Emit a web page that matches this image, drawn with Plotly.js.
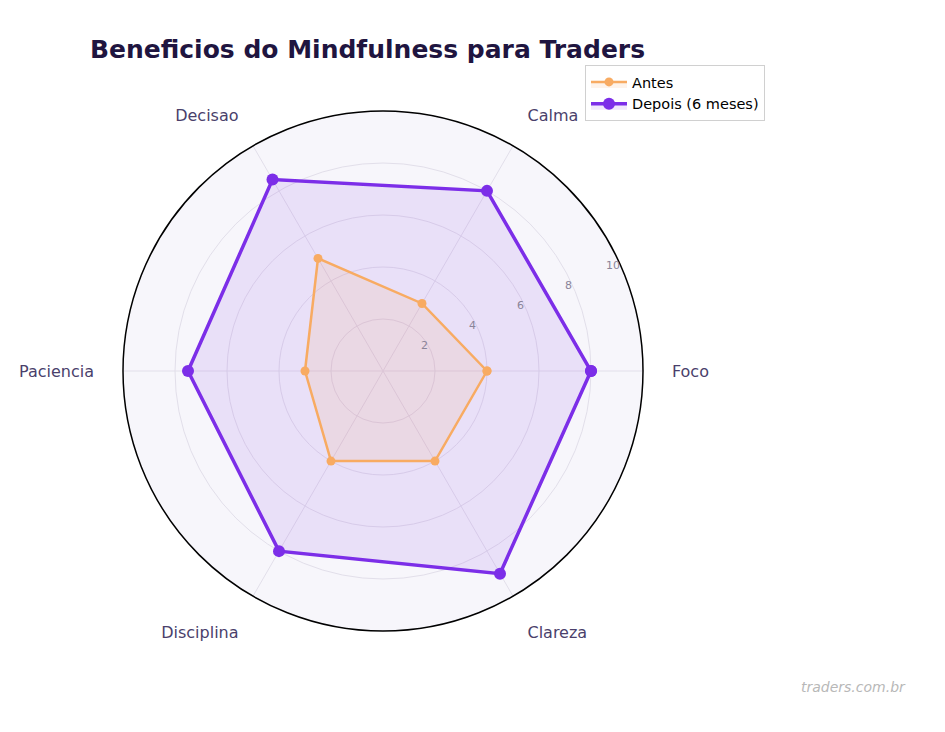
<!DOCTYPE html>
<html>
<head>
<meta charset="utf-8">
<script src="https://cdn.plot.ly/plotly-3.0.1.min.js"></script>
<style>
  html, body { margin: 0; padding: 0; background: #fff; }
  #grafico { width: 945px; height: 732px; }
</style>
</head>
<body>
<div id="grafico"></div>
<script>
const categorias = ['Foco', 'Calma', 'Decisao', 'Paciencia', 'Disciplina', 'Clareza'];
const valoresAntes = [4, 3, 5, 3, 4, 4];
const valoresDepois = [8, 8, 8.5, 7.5, 8, 9];
const ticksRadiais = [2, 4, 6, 8, 10];

// fecha o poligono repetindo o primeiro ponto
function fechar(lista) {
  return lista.concat([lista[0]]);
}

const trazaAntes = {
  type: 'scatterpolar',
  r: fechar(valoresAntes),
  theta: fechar(categorias),
  mode: 'lines+markers',
  name: 'Antes',
  legendrank: 1,
  fill: 'toself',
  fillcolor: 'rgba(247,166,90,0.13)',
  line: { color: '#f8ab62', width: 2.5 },
  marker: { color: '#f8ab62', size: 9 }
};

const trazaDepois = {
  type: 'scatterpolar',
  r: fechar(valoresDepois),
  theta: fechar(categorias),
  mode: 'lines+markers',
  name: 'Depois (6 meses)',
  legendrank: 2,
  fill: 'toself',
  fillcolor: 'rgba(124,46,232,0.11)',
  line: { color: '#7c2ee8', width: 3.5 },
  marker: { color: '#7c2ee8', size: 12 }
};

const layout = {
  width: 945,
  height: 732,
  margin: { l: 0, r: 0, t: 0, b: 0 },
  paper_bgcolor: '#ffffff',
  font: { family: 'DejaVu Sans, sans-serif', color: '#4a3f6b' },
  title: {
    text: '<b>Beneficios do Mindfulness para Traders</b>',
    font: { size: 25, color: '#1f1540', family: 'DejaVu Sans, sans-serif' },
    xref: 'paper',
    yref: 'paper',
    x: 90 / 945,
    xanchor: 'left',
    y: 1 - 49 / 732,
    yanchor: 'middle'
  },
  polar: {
    domain: { x: [123 / 945, 643 / 945], y: [101 / 732, 621 / 732] },
    bgcolor: '#f7f6fb',
    radialaxis: {
      range: [0, 10],
      tickvals: ticksRadiais,
      angle: 22.5,
      tickangle: 22.5,
      side: 'counterclockwise',
      showline: false,
      ticks: '',
      gridcolor: '#e2dfea',
      tickfont: { size: 11, color: '#8a8499' }
    },
    angularaxis: {
      rotation: 0,
      direction: 'counterclockwise',
      showline: true,
      linecolor: '#000000',
      linewidth: 1.5,
      gridcolor: '#e2dfea',
      ticks: 'outside',
      ticklen: 25,
      tickcolor: 'rgba(0,0,0,0)',
      tickfont: { size: 16, color: '#4a3f6b' }
    }
  },
  showlegend: true,
  legend: {
    x: 585 / 945,
    xanchor: 'left',
    y: 1 - 65 / 732,
    yanchor: 'top',
    bgcolor: '#ffffff',
    bordercolor: '#d0d0d0',
    borderwidth: 1,
    itemwidth: 36,
    font: { size: 14.5, color: '#000000', family: 'DejaVu Sans, sans-serif' },
    tracegroupgap: 0
  },
  annotations: [{
    text: '<i>traders.com.br</i>',
    xref: 'paper',
    yref: 'paper',
    x: 908 / 945,
    xanchor: 'right',
    y: 1 - 687 / 732,
    yanchor: 'middle',
    showarrow: false,
    font: { size: 14, color: '#b8b8b8' }
  }]
};

// Depois desenhado primeiro para a linha de Antes ficar por cima
Plotly.newPlot('grafico', [trazaDepois, trazaAntes], layout, { displayModeBar: false, responsive: false });
</script>
</body>
</html>
